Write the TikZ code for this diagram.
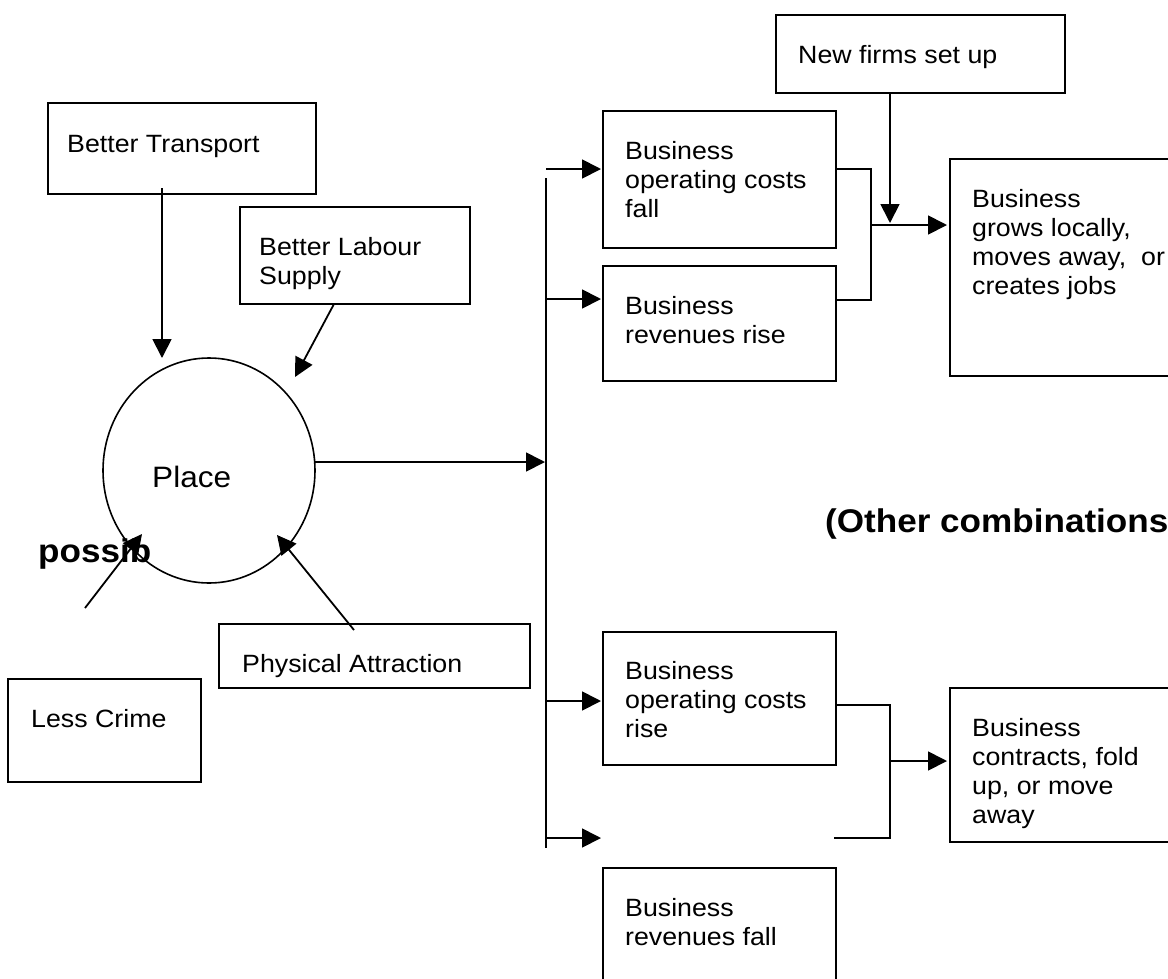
\documentclass[tikz,border=0pt]{standalone}
\usepackage{fontspec}
\setmainfont{Liberation Sans}[FakeStretch=1.07]
\usetikzlibrary{arrows.meta,shapes.geometric}
\newcommand\mltext[1]{\begin{tabular}[t]{@{}l@{}}#1\end{tabular}}
\begin{document}
\begin{tikzpicture}[x=1pt,y=-1pt,
  box/.style={draw,line width=1.6pt,rectangle,inner sep=0pt,anchor=north west},
  txt/.style={inner sep=0pt,anchor=base west,font=\fontsize{25}{29.3}\selectfont},
  bigtxt/.style={inner sep=0pt,anchor=base west,font=\fontsize{29.5}{35}\selectfont},
  boldtxt/.style={inner sep=0pt,anchor=base west,font=\fontsize{32.8}{38}\selectfont\bfseries},
  arr/.style={line width=1.8pt,-{Triangle[length=19pt,width=19pt]}},
  ln/.style={line width=1.8pt}]
\clip (0,0) rectangle (1168,978);
\fill[white] (0,0) rectangle (1168,978);
% boxes
\node[box,minimum width=268pt,minimum height=91pt] (bt) at (47,102) {};
\node[box,minimum width=230pt,minimum height=97pt] (bl) at (239,206) {};
\node[box,minimum width=311pt,minimum height=64pt] (pa) at (218,623) {};
\node[box,minimum width=193pt,minimum height=103pt] (lc) at (7,678) {};
\node[box,minimum width=289pt,minimum height=78pt] (nf) at (775,14) {};
\node[box,minimum width=233pt,minimum height=137pt] (b1) at (602,110) {};
\node[box,minimum width=233pt,minimum height=115pt] (b2) at (602,265) {};
\node[box,minimum width=233pt,minimum height=133pt] (b3) at (602,631) {};
\node[box,minimum width=233pt,minimum height=130pt] (b4) at (602,867) {};
\node[box,minimum width=240pt,minimum height=217pt] (gr) at (949,158) {};
\node[box,minimum width=240pt,minimum height=154pt] (ct) at (949,687) {};
\node[draw,ellipse,line width=1.6pt,minimum width=212pt,minimum height=225pt,inner sep=0pt] (place) at (209,470.5) {};
% texts
\node[txt] (btT) at (67,152) {Better Transport};
\node[txt] (blT) at (259,255) {\mltext{Better Labour\\Supply}};
\node[txt] (paT) at (242,672) {Physical Attraction};
\node[txt] (lcT) at (31,727) {Less Crime};
\node[txt] (nfT) at (798,63) {New firms set up};
\node[txt] (b1T) at (625,159) {\mltext{Business\\operating costs\\fall}};
\node[txt] (b2T) at (625,314) {\mltext{Business\\revenues rise}};
\node[txt] (b3T) at (625,679) {\mltext{Business\\operating costs\\rise}};
\node[txt] (b4T) at (625,916) {\mltext{Business\\revenues fall}};
\node[txt] (grT) at (972,207) {\mltext{Business\\grows locally,\\moves away,~ or\\creates jobs}};
\node[txt] (ctT) at (972,736) {\mltext{Business\\contracts, fold\\up, or move\\away}};
\node[bigtxt] (placeT) at (152,487) {Place};
\node[boldtxt] (otherT) at (825,532) {(Other combinations};
\node[boldtxt] (possT) at (38,562) {possib};
% connector points
\coordinate (btS) at (162,188); \coordinate (btE) at (162,358);
\coordinate (blS) at (334,304); \coordinate (blE) at (295,377);
\coordinate (paS) at (354,630); \coordinate (paE) at (277,535);
\coordinate (lcS) at (85,608);  \coordinate (lcE) at (142,534);
\coordinate (plS) at (315,462); \coordinate (busM) at (545,462);
\coordinate (busTop) at (546,178); \coordinate (busBot) at (546,848);
\coordinate (r1) at (546,169); \coordinate (r2) at (546,299);
\coordinate (r3) at (546,701); \coordinate (r4) at (546,838);
\coordinate (e1) at (601,169); \coordinate (e2) at (601,299);
\coordinate (e3) at (601,701); \coordinate (e4) at (601,838);
\coordinate (k1) at (835,169); \coordinate (k2) at (835,300);
\coordinate (kv) at (871,301); \coordinate (kb) at (871,300);
\coordinate (kj) at (871,225); \coordinate (kgE) at (947,225);
\coordinate (nfS) at (890,92); \coordinate (nfE) at (890,223);
\coordinate (m1) at (835,705); \coordinate (mv) at (890,838); \coordinate (m2) at (834,838);
\coordinate (mj) at (890,761); \coordinate (mcE) at (947,761);
% connectors
\draw[arr] (btS) -- (btE);
\draw[arr] (blS) -- (blE);
\draw[arr] (paS) -- (paE);
\draw[arr] (lcS) -- (lcE);
\draw[arr] (plS) -- (busM);
\draw[ln] (busTop) -- (busBot);
\draw[arr] (r1) -- (e1);
\draw[arr] (r2) -- (e2);
\draw[arr] (r3) -- (e3);
\draw[arr] (r4) -- (e4);
\draw[ln] (k1) -| (kv);
\draw[ln] (k2) -- (kb);
\draw[arr] (kj) -- (kgE);
\draw[arr] (nfS) -- (nfE);
\draw[ln] (m1) -| (mv) -- (m2);
\draw[arr] (mj) -- (mcE);
\end{tikzpicture}
\end{document}
